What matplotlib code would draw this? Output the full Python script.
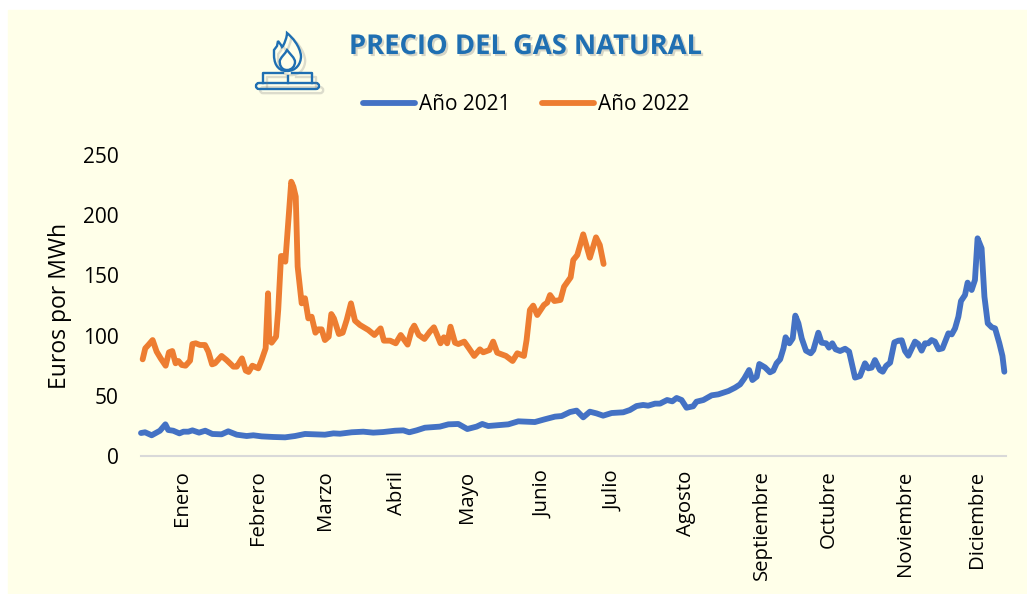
import matplotlib
matplotlib.use('Agg')
import matplotlib.pyplot as plt
import matplotlib.patheffects as pe
from matplotlib.path import Path
from matplotlib.patches import PathPatch, FancyBboxPatch, Rectangle

plt.rcParams['font.family'] = ['Open Sans', 'DejaVu Sans']

days_2022 = [0.7, 1.8, 3.1, 4.9, 6.6, 8.3, 10.4, 11.8, 13.2, 14.6, 15.8, 17.2, 18.8, 20.7, 21.7, 23.1, 24.9, 27,
             28.4, 30, 31.2, 34, 36.1, 39, 40.4, 42.6, 44.2, 45.4, 47, 49.5, 50.9, 52.6, 53.6, 54.1, 55.1, 57,
             57.9, 59.1, 59.8, 60.9, 63.4, 64.3, 65.3, 66.1, 67.8, 69.2, 70.6, 72, 73.6, 74.8, 76.2, 77.6, 79.2,
             80.3, 81.4, 83.5, 85.1, 86.8, 88.6, 90.3, 92.4, 95.9, 98.5, 101.1, 102.5, 105.1, 107.5, 109.6, 112.5,
             114.2, 115.3, 117.2, 119.6, 121.9, 123.6, 126.4, 127.8, 129.2, 130.6, 132.5, 133.9, 136.4, 138.4,
             140.6, 143, 144.4, 147, 148.6, 150.3, 154, 156.8, 158.8, 161.6, 162.7, 164.1, 165.5, 167.2, 170,
             171.4, 172.6, 174.4, 177, 178.5, 181.3, 182.4, 184.1, 186.6, 189.4, 192, 193.6, 195.2]
gas_2022 = [80.3, 89.4, 92.2, 96.3, 86.7, 81.1, 75, 86.1, 87.2, 77, 78.9, 75.6, 75, 79.2, 93, 93.6, 92.2, 92.2,
            86.7, 76.1, 77, 83.1, 79.7, 74.2, 74.2, 81.1, 70.9, 69.8, 75, 72.8, 79.7, 89.4, 135.1, 99.1, 94.1, 99.1,
            121.3, 166.1, 166.1, 161.4, 227.8, 223.7, 215.4, 157.3, 126.8, 131, 114.3, 115.7, 102.4, 105.2, 105.2, 96.3, 99.1,
            117.9, 114.3, 101.3, 102.4, 113, 126.8, 112.4, 108.8, 104.7, 100.5, 106, 95.8, 95.8, 93.6, 100.5, 92.5,
            104.7, 108.3, 100.5, 97.2, 103.3, 106.9, 93.6, 98.6, 93.6, 107.4, 94.1, 93, 95, 89.4,
            83.1, 88.6, 86.1, 88, 95, 85.8, 83.1, 78.9, 85.3, 83.1, 96.3, 121.3, 124.9, 117.1, 125.4,
            127.4, 133.7, 128.7, 129.6, 140.6, 148.4, 162.8, 166.9, 184.1, 164.7, 181.6, 175.2, 159.5]

days_2021 = [0, 1.7, 4.5, 8, 10.3, 11.5, 13.6, 16.2, 17.9, 20, 21.7, 24.5, 27.1, 30.1, 34, 36.8, 40.4, 44.6, 47.4,
             50.9, 55.8, 60.8, 65, 69.2, 74.1, 77.6, 81.2, 84, 88.9, 93.8, 98, 102.2, 107.2, 110.7, 113.2, 116.3,
             119.8, 121.9, 126.1, 129.7, 133.9, 137.7, 141.6, 144, 146.5, 151.5, 155, 159.2, 162.7, 166.2, 170.4,
             174.7, 177.5, 181, 183.8, 186.6, 189.4, 192.2, 195, 198.6, 203.5, 206.3, 209.1, 211.9, 214, 216.9,
             219, 222, 224.2, 226, 228.1, 230.2, 233, 234.4, 237.3, 240.8, 243.6, 247.9, 250.7, 252.8, 254.6,
             256.6, 258, 259.8, 260.9, 263.3, 265.4, 266.8, 268.2, 269.7, 271.1, 272, 273.6, 275, 276.1, 277.4,
             278.8, 280.6, 282.6, 283.7, 285.8, 287.2, 289.1, 290.3, 291.7, 293.1, 295, 297.1, 298.8, 301.3,
             303.4, 305.5, 306.9, 308.3, 309.7, 311.8, 313, 314.4, 316.1, 317.9, 319.6, 321, 322.4, 323.8, 326.6,
             328, 329.4, 330.8, 332.2, 333.6, 335, 336.6, 338.2, 340.7, 342.1, 343.5, 344.9, 346, 347.7, 348.8,
             350.5, 351.9, 353, 354.7, 355.9, 357.3, 359, 360.4, 362.2, 363.5, 364.3]
gas_2021 = [19.1, 19.7, 17.2, 21, 26.3, 21.6, 21, 18.8, 20.2, 20.2, 21.3, 19.4, 21, 18.3, 18, 20.5, 17.7, 16.6, 17.2,
            16.3, 15.8, 15.5, 16.6, 18.3, 18, 17.7, 18.8, 18.5, 19.7, 20.2, 19.4, 19.9, 21, 21.3, 19.7, 21.3,
            23.5, 23.8, 24.4, 26.3, 26.6, 22.4, 24.4, 26.6, 24.9, 25.7, 26.3, 28.8, 28.5, 28.2, 30.5,
            32.7, 33.2, 36.5, 37.7, 32.1, 36.8, 35.4, 33.5, 35.7, 36.3, 38.2, 41.5, 42.4, 41.8, 43.5,
            43.5, 46.5, 45.4, 48.2, 46.5, 40.1, 41.3, 45.1, 46.5, 50.4, 51.2, 54, 56.8, 59.5, 64.5,
            71.4, 63.1, 65.9, 76.4, 73.6, 69.5, 70.9, 77, 80.3, 89.4, 98.6, 93.6, 97.7, 116.6, 110.2,
            97.7, 87.5, 85.3, 88, 102.4, 94.1, 93.6, 90, 93.6, 88.6, 87.2, 89.1, 86.7, 65.1,
            66.4, 77, 72.8, 73.4, 79.7, 71.4, 70, 74.8, 77.5, 94.4, 95.8, 96.1, 87.2, 83.3, 95,
            93, 87.5, 93.6, 93.6, 96.3, 95, 88.6, 89.4, 101.9, 101, 106, 115.7, 128.7, 133.7, 144,
            137.9, 146.2, 180.8, 172.5, 132.3, 110.2, 106.9, 106, 93.6, 83.1, 70]

months = ['Enero', 'Febrero', 'Marzo', 'Abril', 'Mayo', 'Junio', 'Julio', 'Agosto',
          'Septiembre', 'Octubre', 'Noviembre', 'Diciembre']
month_days = [17.3, 49.3, 77.6, 108, 137.5, 169.8, 199.5, 229.9, 262, 290.2, 322.3, 352.7]
y_ticks = [0, 50, 100, 150, 200, 250]

bg = '#FFFFE9'
W, H = 1027, 594

fig = plt.figure(figsize=(W / 100, H / 100), dpi=100, facecolor='white')

# fondo amarillo (deja un margen blanco arriba y a la izquierda)
fig.add_artist(Rectangle((8 / W, 0), 1 - 8 / W, 1 - 10 / H, transform=fig.transFigure, color=bg, zorder=-5))

ax = fig.add_axes([141 / W, (H - 456) / H, 865 / W, 301 / H])
ax.set_facecolor('none')
l1, = ax.plot(days_2021, gas_2021, color='#4472C4', lw=4.2, solid_joinstyle='round', solid_capstyle='round',
              label='Año 2021', clip_on=False)
l2, = ax.plot(days_2022, gas_2022, color='#ED7D31', lw=4.2, solid_joinstyle='round', solid_capstyle='round',
              label='Año 2022', clip_on=False)
ax.set_xlim(0, 365)
ax.set_ylim(0, 250)

for s in ['top', 'right', 'left']:
    ax.spines[s].set_visible(False)
ax.spines['bottom'].set_color('#D9D9D9')
ax.spines['bottom'].set_linewidth(1.5)

ax.set_yticks(y_ticks)
ax.tick_params(axis='y', length=0, pad=16, labelsize=15, labelcolor='black')
ax.set_xticks(month_days)
ax.set_xticklabels(months, rotation=90, fontsize=14.7)
ax.tick_params(axis='x', length=0, pad=10.5)
ax.set_ylabel('Euros por MWh', fontsize=16.5, labelpad=8)

fig.text(526 / W, 1 - 47 / H, 'PRECIO DEL GAS NATURAL', color='#1F6FB2', fontsize=19.7, fontweight='bold',
         ha='center', va='center',
         path_effects=[pe.withSimplePatchShadow(offset=(1.5, -1.5), shadow_rgbFace='#888888', alpha=0.35)])

fig.legend(handles=[l1, l2], ncols=2, frameon=False, fontsize=15, handlelength=2.5, handletextpad=0.2,
           columnspacing=1.5, loc='center', bbox_to_anchor=(526 / W, 1 - 105 / H))

# icono del gas, en pixeles
ic = fig.add_axes([0, 0, 1, 1], facecolor='none')
ic.set_xlim(0, W)
ic.set_ylim(H, 0)
ic.axis('off')
blue = '#1F6FB2'
shadow = [pe.SimpleLineShadow(offset=(3, -3), shadow_color='#777777', alpha=0.25), pe.Normal()]
flame = Path([(287, 71), (276, 71), (274, 61), (274, 55), (274, 50), (277, 46), (278, 41), (281, 45), (282, 47), (283, 46),
              (285, 42), (287, 37), (287, 33), (292, 37), (300, 46), (301, 56), (301, 64), (296, 71), (287, 71)],
             [Path.MOVETO] + [Path.CURVE4, Path.CURVE4, Path.CURVE4] + [Path.LINETO] * 6 +
             [Path.CURVE4, Path.CURVE4, Path.CURVE4] * 3)
inner = Path([(287, 70), (281, 70), (279, 64), (280, 60), (282, 56), (285, 54), (287, 50), (290, 54), (295, 58), (295, 62),
              (295, 66), (292, 70), (287, 70)],
             [Path.MOVETO] + [Path.CURVE4] * 12)
ic.add_patch(PathPatch(flame, fill=False, ec=blue, lw=1.7, path_effects=shadow))
ic.add_patch(PathPatch(inner, fill=False, ec=blue, lw=1.7))
ic.plot([283, 263, 263], [73, 73, 83], color=blue, lw=1.7, path_effects=shadow)
ic.plot([292, 312, 312], [73, 73, 83], color=blue, lw=1.7, path_effects=shadow)
ic.add_patch(FancyBboxPatch((256, 83), 63, 6, boxstyle='round,pad=0,rounding_size=3', fill=False, ec=blue, lw=1.7,
                            path_effects=shadow))
ic.plot([288, 288], [76, 83], color=blue, lw=1.7)

fig.savefig('out.png', dpi=100, facecolor='white')
